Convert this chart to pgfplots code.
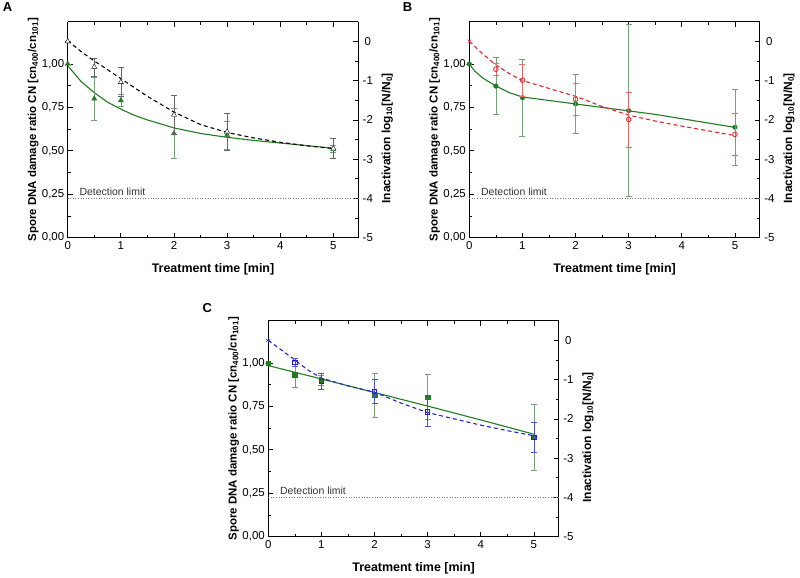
\documentclass[border=0pt]{standalone}
\usepackage{pgfplots}
\pgfplotsset{compat=1.18}
\usepackage{fontspec}
\setmainfont{Liberation Sans}

\definecolor{cgreen}{RGB}{34,122,34}
\definecolor{cgreenerr}{RGB}{120,160,120}
\definecolor{cred}{RGB}{220,40,40}
\definecolor{crederr}{RGB}{220,110,110}
\definecolor{cblue}{RGB}{35,35,205}
\definecolor{cblueerr}{RGB}{80,80,200}

\tikzset{
  dettext/.style={anchor=south west, inner sep=0pt, yshift=2.5bp, text=black!80, font=\fontsize{10.5}{12}\selectfont},
  panellabel/.style={font=\bfseries\fontsize{13}{13}\selectfont},
}

\pgfplotsset{
  common/.style={
    scale only axis, width=290.6bp, height=216bp,
    xmin=0, xmax=5.47,
    tick align=inside, major tick length=5bp, minor tick length=3bp,
    every tick/.style={black, line width=0.7pt},
    axis line style={line width=1pt},
    tick label style={font=\fontsize{11.5}{13}\selectfont},
    /pgf/number format/assume math mode=true,
    clip=false,
  },
  panelL/.style={common,
    ymin=0, ymax=1.2435,
    axis y line*=left,
    xtick={0,...,5}, minor x tick num=1,
    ytick={0,0.25,...,1}, minor y tick num=1,
    yticklabel style={/pgf/number format/.cd, fixed, fixed zerofill, precision=2, use comma},
    xlabel={Treatment time [min]},
    xlabel style={font=\bfseries\fontsize{12.5}{13}\selectfont, at={(axis description cs:0.5,-0.145)}, anchor=center},
    ylabel={Spore DNA damage ratio CN [cn\textsubscript{400}/cn\textsubscript{101}]},
    ylabel style={font=\bfseries\fontsize{11.5}{13}\selectfont, at={(axis description cs:-0.119,0.5)}, anchor=center},
  },
  panelR/.style={common,
    ymin=-5, ymax=0.5,
    axis y line*=right, axis x line=none,
    ytick={-5,...,0}, minor y tick num=1,
    yticklabel style={anchor=center, xshift=9.5bp},
    ylabel={Inactivation log\textsubscript{10}[N/N\textsubscript{0}]},
    ylabel style={font=\bfseries\fontsize{12}{13}\selectfont, at={(axis description cs:1.10,0.46)}, anchor=center},
  },
  errs/.style={error bars/.cd, y dir=both, y explicit,
    error bar style={#1, line width=0.6pt},
    error mark options={#1, rotate=90, mark size=3bp, line width=0.6pt}},
  fitline/.style={#1, line width=1.1pt, mark=none},
  fitdash/.style={#1, line width=1.1pt, dash pattern=on 4bp off 3bp, mark=none},
  detlim/.style={gray, line width=0.6pt, dotted},
}

\begin{document}
\begin{tikzpicture}
\useasboundingbox (0,0) rectangle (800bp,578bp);

% ---------------- A ----------------
\node[panellabel] at (7.5bp,570.5bp) {A};
\begin{axis}[panelL, at={(67.7bp,340.3bp)}]
\addplot[fitline=cgreen] coordinates {(0,0.99) (0.25,0.90) (0.5,0.835) (0.75,0.78) (1,0.74) (1.25,0.705) (1.5,0.678) (2,0.632) (2.5,0.60) (3,0.578) (3.5,0.56) (4,0.545) (4.5,0.53) (5,0.515)};
\addplot[only marks, mark=triangle*, mark size=3bp, cgreen, errs=cgreenerr] coordinates {
 (0,1.00) +- (0,0) (0.5,0.80) +- (0,0.125) (1,0.79) +- (0,0.035)
 (2,0.60) +- (0,0.145) (3,0.59) +- (0,0.08) (5,0.51) +- (0,0.02)};
\end{axis}
\begin{axis}[panelR, at={(67.7bp,340.3bp)}]
\addplot[detlim] coordinates {(0,-4) (5.47,-4)};
\node[dettext] at (axis cs:0.22,-4) {Detection limit};
\addplot[fitdash=black] coordinates {(0,0.02) (0.25,-0.26) (0.5,-0.5) (0.75,-0.72) (1,-0.95) (1.5,-1.4) (2,-1.8) (2.5,-2.12) (3,-2.32) (3.5,-2.46) (4,-2.57) (4.5,-2.66) (5,-2.73)};
\addplot[only marks, mark=triangle*, mark size=3bp, mark options={fill=white, draw=black}, errs=black!60] coordinates {
 (0,0) +- (0,0) (0.5,-0.65) +- (0,0.23) (1,-1.04) +- (0,0.37)
 (2,-1.87) +- (0,0.5) (3,-2.3) +- (0,0.48) (5,-2.73) +- (0,0.26)};
\end{axis}

% ---------------- B ----------------
\node[panellabel] at (407.5bp,570.5bp) {B};
\begin{axis}[panelL, at={(469.3bp,340.3bp)}]
\addplot[fitline=cgreen] coordinates {(0,1.0) (0.1,0.96) (0.25,0.92) (0.5,0.873) (0.75,0.835) (1,0.81) (1.5,0.79) (2,0.77) (2.5,0.75) (3,0.73) (3.5,0.71) (4,0.685) (4.5,0.66) (5,0.635)};
\addplot[only marks, mark=*, mark size=2.3bp, cgreen, errs=cgreenerr] coordinates {
 (0,1.00) +- (0,0) (0.5,0.873) +- (0,0.165) (1,0.806) +- (0,0.222)
 (2,0.77) +- (0,0.17) (3,0.731) +- (0,0.495) (5,0.636) +- (0,0.22)};
\end{axis}
\begin{axis}[panelR, at={(469.3bp,340.3bp)}]
\addplot[detlim] coordinates {(0,-4) (5.47,-4)};
\node[dettext] at (axis cs:0.22,-4) {Detection limit};
\addplot[fitdash=cred] coordinates {(0,0) (0.25,-0.32) (0.5,-0.6) (0.75,-0.82) (1,-1.0) (1.5,-1.2) (2,-1.4) (2.5,-1.66) (3,-1.88) (3.5,-2.03) (4,-2.16) (4.5,-2.28) (5,-2.4)};
\addplot[only marks, mark=x, mark size=2.5bp, cred] coordinates {(0,0)};
\addplot[only marks, mark=o, mark size=2.3bp, mark options={fill=white, draw=cred, line width=0.8pt}, errs=crederr] coordinates {
 (0.5,-0.71) +- (0,0.16) (1,-0.99) +- (0,0.4)
 (2,-1.476) +- (0,0.41) (3,-1.99) +- (0,0.7) (5,-2.37) +- (0,0.54)};
\end{axis}

% ---------------- C ----------------
\node[panellabel] at (207.2bp,269.8bp) {C};
\begin{axis}[panelL, at={(268.3bp,41.3bp)}]
\addplot[fitline=cgreen] coordinates {(0,0.985) (1,0.908) (2,0.83) (3,0.752) (4,0.672) (5,0.59)};
\addplot[only marks, mark=square*, mark size=2.2bp, cgreen, errs=cgreenerr] coordinates {
 (0,1.00) +- (0,0) (0.5,0.933) +- (0,0.075) (1,0.90) +- (0,0.03)
 (2,0.814) +- (0,0.125) (3,0.804) +- (0,0.13) (5,0.572) +- (0,0.19)};
\end{axis}
\begin{axis}[panelR, at={(268.3bp,41.3bp)}]
\addplot[detlim] coordinates {(0,-4) (5.47,-4)};
\node[dettext] at (axis cs:0.22,-4) {Detection limit};
\addplot[fitdash=cblue] coordinates {(0,0) (0.25,-0.25) (0.5,-0.5) (0.75,-0.76) (1,-0.96) (1.5,-1.16) (2,-1.32) (2.5,-1.6) (3,-1.84) (3.5,-2.0) (4,-2.16) (4.5,-2.3) (5,-2.43)};
\addplot[only marks, mark=asterisk, mark size=2.5bp, cblue] coordinates {(0,0)};
\addplot[only marks, mark=square, mark size=2.2bp, mark options={fill=white, draw=cblue, line width=0.8pt}, errs=cblueerr] coordinates {
 (0.5,-0.557) +- (0,0.1) (1,-1.04) +- (0,0.21)
 (2,-1.30) +- (0,0.3) (3,-1.82) +- (0,0.36) (5,-2.47) +- (0,0.38)};
\end{axis}
\end{tikzpicture}
\end{document}
